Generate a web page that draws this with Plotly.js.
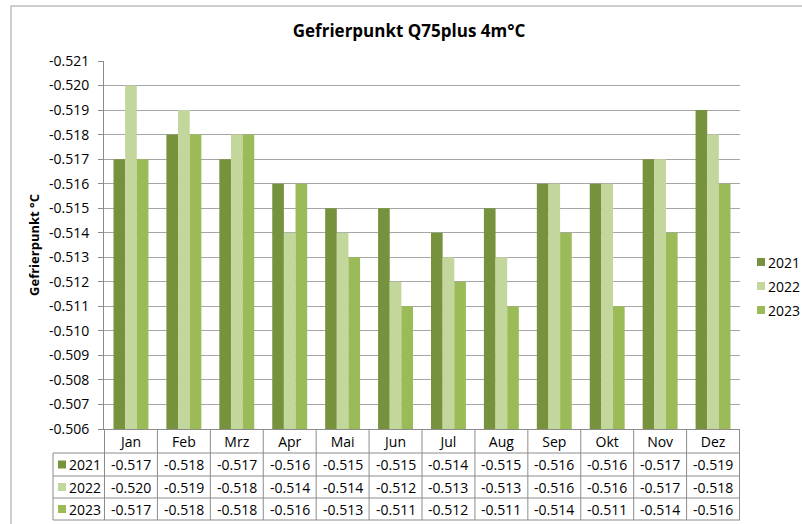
<!DOCTYPE html>
<html>
<head>
<meta charset="utf-8">
<script src="https://cdn.plot.ly/plotly-3.0.1.min.js"></script>
<style>
  html, body { margin: 0; padding: 0; background: #fff; }
  #chart { width: 802px; height: 524px; }
</style>
</head>
<body>
<div id="chart"></div>
<script>
// Monthly freezing point values
const months = ['Jan', 'Feb', 'Mrz', 'Apr', 'Mai', 'Jun', 'Jul', 'Aug', 'Sep', 'Okt', 'Nov', 'Dez'];
const years = ['2021', '2022', '2023'];
const values2021 = [-0.517, -0.518, -0.517, -0.516, -0.515, -0.515, -0.514, -0.515, -0.516, -0.516, -0.517, -0.519];
const values2022 = [-0.520, -0.519, -0.518, -0.514, -0.514, -0.512, -0.513, -0.513, -0.516, -0.516, -0.517, -0.518];
const values2023 = [-0.517, -0.518, -0.518, -0.516, -0.513, -0.511, -0.512, -0.511, -0.514, -0.511, -0.514, -0.516];
const yTicks = [-0.521, -0.520, -0.519, -0.518, -0.517, -0.516, -0.515, -0.514, -0.513, -0.512, -0.511, -0.510, -0.509, -0.508, -0.507, -0.506];

const colors = ['#76923c', '#c3d69b', '#9bbb59'];
const series = [values2021, values2022, values2023];
const fontFamily = '"Open Sans", "Noto Sans", sans-serif';
const txtSize = 14;

// plot area in pixels: 104..740 horizontally, 61..429 vertically
const plotL = 104, plotR = 740, plotT = 61, plotB = 429;
const plotH = plotB - plotT;
const px = x => (x - plotL) / (plotR - plotL);
const py = y => (plotB - y) / plotH;

const traces = series.map((vals, i) => ({
  x: months,
  y: vals,
  name: years[i],
  type: 'bar',
  marker: { color: colors[i] },
  hoverinfo: 'skip',
}));

// Data table under the chart: grid lines, legend keys and values
const rowTops = [429, 453, 476, 498, 520];
const tableLeft = 53;
const lineColor = '#8c8c8c';
const shapes = [];
const annotations = [];

// horizontal lines of the table
rowTops.slice(1).forEach(y => {
  shapes.push({ type: 'line', xref: 'paper', yref: 'paper', x0: px(tableLeft), x1: 1, y0: py(y), y1: py(y), line: { color: lineColor, width: 1 } });
});
// vertical lines between months (through header row)
for (let i = 0; i <= months.length; i++) {
  shapes.push({ type: 'line', xref: 'x', yref: 'paper', x0: i - 0.5, x1: i - 0.5, y0: py(rowTops[0]), y1: py(rowTops[4]), line: { color: lineColor, width: 1 } });
}
// left edge of the legend column
shapes.push({ type: 'line', xref: 'paper', yref: 'paper', x0: px(tableLeft), x1: px(tableLeft), y0: py(rowTops[1]), y1: py(rowTops[4]), line: { color: lineColor, width: 1 } });

// outer chart border
shapes.push({ type: 'rect', xref: 'paper', yref: 'paper', x0: px(11), x1: px(820), y0: py(6), y1: py(540), line: { color: '#bfbfbf', width: 1.5 } });

const legendRows = [262, 286, 310];
series.forEach((vals, r) => {
  const yMid = (py(rowTops[r + 1]) + py(rowTops[r + 2])) / 2;
  // legend key in the table
  shapes.push({ type: 'rect', xref: 'paper', yref: 'paper', x0: px(58), x1: px(66), y0: yMid - 4 / plotH, y1: yMid + 4 / plotH, fillcolor: colors[r], line: { width: 0 } });
  annotations.push({ xref: 'paper', yref: 'paper', x: px(67), y: yMid, xanchor: 'left', yanchor: 'middle', text: years[r], showarrow: false, font: { size: txtSize, color: '#000' } });
  vals.forEach((v, c) => {
    annotations.push({ xref: 'x', yref: 'paper', x: months[c], y: yMid, xanchor: 'center', yanchor: 'middle', text: v.toFixed(3), showarrow: false, font: { size: txtSize, color: '#000' } });
  });
  // right-hand legend, kept just inside the page edge
  const ly = py(legendRows[r]);
  shapes.push({ type: 'rect', xref: 'paper', yref: 'paper', x0: px(757), x1: px(765), y0: ly - 4 / plotH, y1: ly + 4 / plotH, fillcolor: colors[r], line: { width: 0 } });
  annotations.push({ xref: 'paper', yref: 'paper', x: px(766), y: ly, xanchor: 'left', yanchor: 'middle', text: years[r], showarrow: false, font: { size: txtSize, color: '#000' } });
});

const layout = {
  width: 802,
  height: 524,
  font: { family: fontFamily, size: txtSize, color: '#000' },
  showlegend: false,
  title: {
    text: '<b>Gefrierpunkt Q75plus 4m°C</b>',
    font: { size: 17, color: '#000' },
    x: 0.51, xanchor: 'center', y: 0.94, yanchor: 'middle',
  },
  barmode: 'group',
  bargap: 0.34,
  bargroupgap: 0,
  xaxis: {
    type: 'category',
    showline: true, linecolor: '#8c8c8c',
    ticks: '', showgrid: false,
    tickfont: { size: txtSize },
    fixedrange: true,
  },
  yaxis: {
    title: { text: '<b>Gefrierpunkt °C</b>', font: { size: 13 }, standoff: 6 },
    range: [-0.506, -0.521],
    tickvals: yTicks,
    ticktext: yTicks.map(v => v.toFixed(3)),
    tickfont: { size: txtSize },
    ticks: 'outside', ticklen: 5, tickcolor: '#8c8c8c',
    ticklabelstandoff: 6,
    showline: true, linecolor: '#8c8c8c',
    showgrid: true, gridcolor: '#a6a6a6', gridwidth: 1,
    zeroline: false,
    fixedrange: true,
  },
  shapes: shapes,
  annotations: annotations,
  margin: { l: plotL, r: 802 - plotR, t: plotT, b: 524 - plotB },
  paper_bgcolor: '#ffffff',
  plot_bgcolor: '#ffffff',
};

Plotly.newPlot('chart', traces, layout, { displayModeBar: false, staticPlot: true });
</script>
</body>
</html>
